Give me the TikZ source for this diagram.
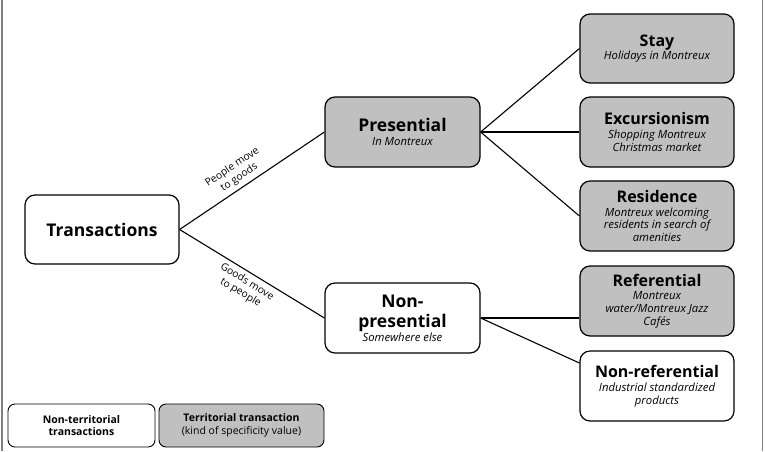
\documentclass[tikz,border=0pt]{standalone}
\usepackage{fontspec}
\setmainfont{Open Sans}
\definecolor{boxgray}{RGB}{192,192,192}
\definecolor{framegray}{RGB}{128,128,128}
\tikzset{
  box/.style={draw=black, line width=1.2pt, rounded corners=10pt, align=center,
    minimum width=154pt, minimum height=70pt, inner sep=2pt,
    font=\fontsize{11.3}{12.8}\selectfont},
  tbox/.style={box, fill=boxgray},
  wbox/.style={box, fill=white},
  legbox/.style={draw=black, line width=0.9pt, rounded corners=7pt, align=center,
    minimum height=43pt, inner sep=2pt, font=\fontsize{10.5}{12.8}\selectfont},
  conn/.style={line width=1.1pt, black},
  elabel/.style={font=\fontsize{10.3}{12.5}\selectfont, align=center, inner sep=0pt},
  frameline/.style={framegray, line width=1.2pt}
}
\newcommand{\headA}[1]{{\bfseries\fontsize{17.5}{19}\selectfont #1}}
\newcommand{\headB}[1]{{\bfseries\fontsize{16}{17}\selectfont #1}}
\newcommand{\subT}[1]{{\itshape #1}}
\begin{document}
\begin{tikzpicture}[x=1pt,y=-1pt]
\useasboundingbox (0,0) rectangle (765,451);
\draw[frameline] (2,0) -- (2,451);
\draw[frameline] (762.5,0) -- (762.5,451);

\node[wbox, minimum height=69pt] (trans) at (102,229.5) {\headA{Transactions}};
\node[tbox, minimum width=155pt] (pres) at (402.5,132) {\headA{Presential}\\[1.5pt]\subT{In Montreux}};
\node[wbox, minimum width=155pt] (nonp) at (402.5,318) {\headA{Non-}\\[5.5pt]\headA{presential}\\[1.5pt]\subT{Somewhere else}};

\node[tbox, minimum height=69pt] (stay) at (657,48.5) {\headB{Stay}\\[1pt]\subT{Holidays in Montreux}};
\node[tbox] (exc) at (657,132) {\headB{Excursionism}\\[1pt]\subT{Shopping Montreux}\\\subT{Christmas market}};
\node[tbox] (res) at (657,216) {\headB{Residence}\\[1pt]\subT{Montreux welcoming}\\\subT{residents in search of}\\\subT{amenities}};
\node[tbox] (ref) at (657,301) {\headB{Referential}\\[1pt]\subT{Montreux}\\\subT{water/Montreux Jazz}\\\subT{Cafés}};
\node[wbox] (nonref) at (657,386) {\headB{Non-referential}\\[1pt]\subT{Industrial standardized}\\\subT{products}};

\node[legbox, fill=white, minimum width=147pt] (leg1) at (81.5,425.5) {\bfseries Non-territorial\\\bfseries transactions};
\node[legbox, fill=boxgray, minimum width=165pt] (leg2) at (241.5,425.5) {\bfseries Territorial transaction\\(kind of specificity value)};

\draw[conn] (trans.east) -- node[elabel, pos=0.45, sloped, above=4pt] {People move\\to goods} (pres.west);
\draw[conn] (trans.east) -- node[elabel, pos=0.5, sloped, below=4pt] {Goods move\\to people} (nonp.west);
\draw[conn] (pres.east) -- (stay.west);
\draw[conn] (pres.east) -- (exc.west);
\draw[conn] (pres.east) -- (res.west);
\draw[conn] (nonp.east) -- (nonp.east -| ref.west);
\draw[conn] (nonp.east) -- ([yshift=23pt]nonref.west);
\end{tikzpicture}
\end{document}
